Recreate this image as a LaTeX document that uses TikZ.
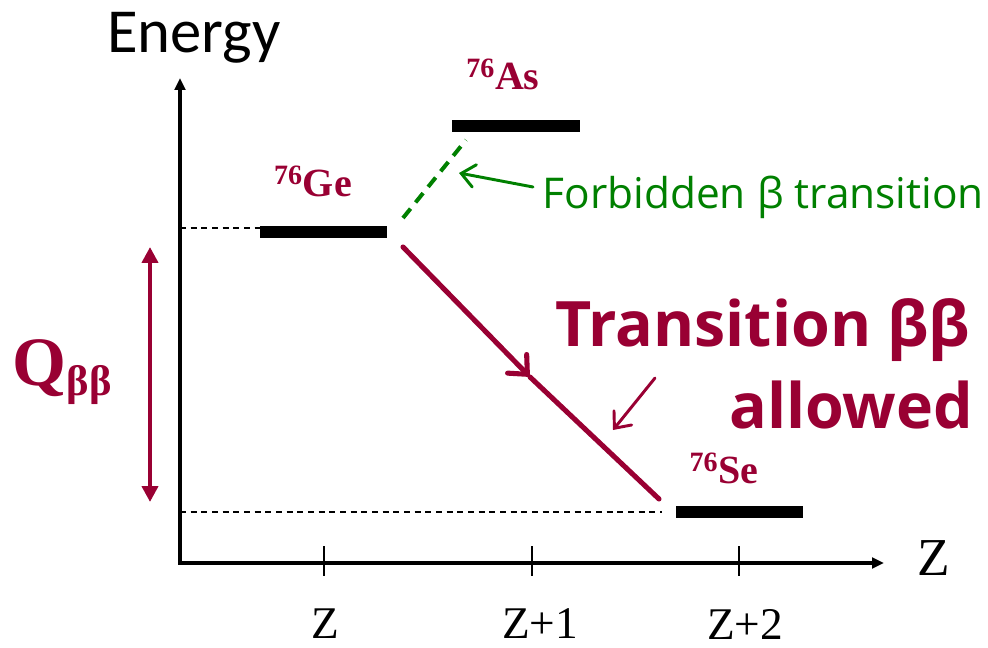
\documentclass[tikz,border=0pt]{standalone}
\usepackage{fontspec}
\setmainfont{Liberation Serif}
\newfontfamily\calib{Carlito}
\newfontfamily\comic{Open Sans}
\usetikzlibrary{arrows.meta}
\definecolor{maroon}{RGB}{153,0,51}
\definecolor{fgreen}{RGB}{0,128,0}
\begin{document}
\begin{tikzpicture}[x=0.75pt,y=-0.75pt,
  axis/.style={line width=2.4pt,line join=miter,{Triangle[length=9pt,width=8pt]}-{Triangle[length=9pt,width=8pt]}},
  level/.style={line width=9pt},
  guide/.style={line width=0.9pt,dash pattern=on 4.5pt off 3.5pt},
  tickmark/.style={line width=1pt},
  ticklabel/.style={font=\fontsize{34}{34}\selectfont},
  isotope/.style={text=maroon,font=\bfseries\fontsize{30}{30}\selectfont},
  trans/.style={maroon,line width=3.8pt,line cap=round},
  forbid/.style={fgreen,line width=3pt,dash pattern=on 9pt off 6pt},
  pointer/.style={line width=2.2pt,line cap=round,-{Straight Barb[length=10pt,width=17pt,line cap=round]}}
]
\useasboundingbox (0,0) rectangle (988,648);
% axes
\coordinate (Ytop) at (180,78);
\coordinate (O) at (180,563);
\coordinate (Xend) at (884,563);
\draw[axis] (Ytop) -- (O) -- (Xend);
\node[font=\calib\fontsize{47}{47}\selectfont] (energy) at (194,38) {Energy};
\node[font=\fontsize{40}{40}\selectfont] (zax) at (934,558) {Z};
% ticks
\foreach \n/\x in {a/324,b/532,c/739}{
  \coordinate (t\n1) at (\x,546);
  \coordinate (t\n2) at (\x,576);
  \draw[tickmark] (t\n1) -- (t\n2);
}
\node[ticklabel] (lz) at (325,624) {Z};
\node[ticklabel] (lz1) at (540,624) {Z+1};
\node[ticklabel] (lz2) at (745,624) {Z+2};
% levels
\coordinate (GeL) at (260,232.5); \coordinate (GeR) at (387,232.5);
\coordinate (AsL) at (452,126);   \coordinate (AsR) at (580,126);
\coordinate (SeL) at (676,512);   \coordinate (SeR) at (803,512);
\draw[level] (GeL) -- (GeR);
\draw[level] (AsL) -- (AsR);
\draw[level] (SeL) -- (SeR);
\node[isotope] (ge) at (313,181) {\textsuperscript{76}Ge};
\node[isotope] (as) at (503,74) {\textsuperscript{76}As};
\node[isotope] (se) at (724,468) {\textsuperscript{76}Se};
% guide lines
\coordinate (g1) at (180,228); \coordinate (g2) at (260,228);
\coordinate (s1) at (180,512); \coordinate (s2) at (662,512);
\draw[guide] (g1) -- (g2);
\draw[guide] (s1) -- (s2);
% forbidden transition
\coordinate (f1) at (403,218); \coordinate (f2) at (466,140);
\draw[forbid] (f1) -- (f2);
\coordinate (fa1) at (533,187); \coordinate (fa2) at (459,173);
\draw[pointer,fgreen] (fa1) -- (fa2);
\node[text=fgreen,font=\comic\fontsize{31.8}{31.8}\selectfont,anchor=west] (ftext) at (538,197) {Forbidden β transition};
% allowed transition
\coordinate (d1) at (403,247); \coordinate (dm) at (530,377); \coordinate (d2) at (659,499);
\draw[trans,-{Straight Barb[length=11pt,width=20pt,line cap=round]}] (d1) -- (dm);
\draw[trans] (dm) -- (d2);
\coordinate (p1) at (655,378); \coordinate (p2) at (613,430);
\draw[pointer,maroon] (p1) -- (p2);
\node[text=maroon,font=\comic\bfseries\fontsize{47}{47}\selectfont,anchor=east] (ttext) at (975,330) {Transition ββ};
\node[text=maroon,font=\comic\bfseries\fontsize{47}{47}\selectfont,anchor=east] (atext) at (978,405) {allowed};
% Q
\coordinate (q1) at (150,247); \coordinate (q2) at (150,502);
\draw[maroon,line width=3pt,{Triangle[length=12pt,width=12pt]}-{Triangle[length=12pt,width=12pt]}] (q1) -- (q2);
\node[text=maroon,anchor=west] (q) at (8,372) {\bfseries\fontsize{52}{52}\selectfont Q\raisebox{-0.3ex}{\fontsize{32}{32}\selectfont ββ}};
\end{tikzpicture}
\end{document}
